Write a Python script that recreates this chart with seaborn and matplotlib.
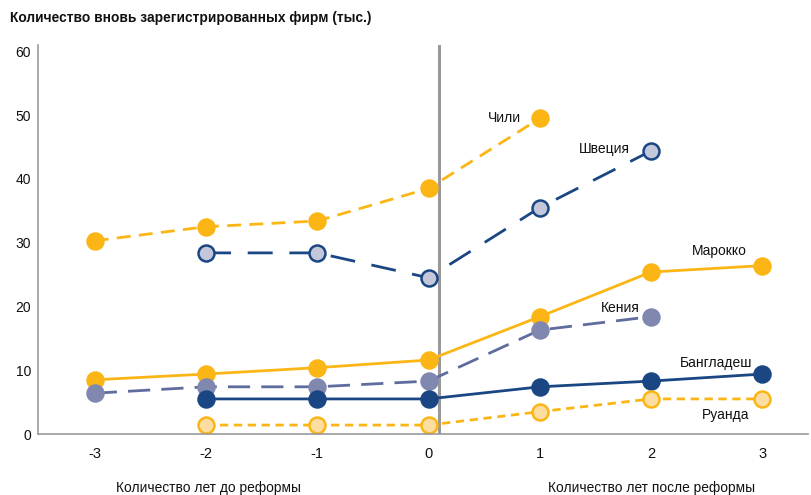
import matplotlib
matplotlib.use("Agg")
import matplotlib.pyplot as plt
import seaborn as sns
import pandas as pd

years = [-3, -2, -1, 0, 1, 2, 3]
chile_x = [-3, -2, -1, 0, 1]
chile = [30.3, 32.5, 33.4, 38.5, 49.5]
sweden_x = [-2, -1, 0, 1, 2]
sweden = [28.4, 28.4, 24.5, 35.5, 44.4]
morocco_x = [-3, -2, -1, 0, 1, 2, 3]
morocco = [8.5, 9.4, 10.4, 11.6, 18.4, 25.4, 26.4]
kenya_x = [-3, -2, -1, 0, 1, 2]
kenya = [6.4, 7.4, 7.4, 8.3, 16.3, 18.4]
bangladesh_x = [-2, -1, 0, 1, 2, 3]
bangladesh = [5.5, 5.5, 5.5, 7.4, 8.3, 9.4]
rwanda_x = [-2, -1, 0, 1, 2, 3]
rwanda = [1.4, 1.4, 1.4, 3.5, 5.5, 5.5]

title = "Количество вновь зарегистрированных фирм (тыс.)"
xlab_before = "Количество лет до реформы"
xlab_after = "Количество лет после реформы"

YEL = "#FBB616"
NAVY = "#1A4784"
KEN_LINE = "#5F6C9E"
KEN_FILL = "#8188B0"
SWE_FILL = "#C4C7DA"
RWA_FILL = "#FDDDA0"

sns.set_theme(style="white")
plt.rcParams['font.family'] = ['Liberation Sans', 'DejaVu Sans']

fig = plt.figure(figsize=(8.11, 4.95), dpi=100)
ax = fig.add_axes([38/811, 1-434/495, (808-38)/811, (434-45)/495])

series = [
    (chile_x, chile, YEL, (0, (5, 3)), YEL, YEL),
    (sweden_x, sweden, NAVY, (0, (9, 6)), SWE_FILL, NAVY),
    (morocco_x, morocco, YEL, '-', YEL, YEL),
    (kenya_x, kenya, KEN_LINE, (0, (8, 4)), KEN_FILL, KEN_FILL),
    (bangladesh_x, bangladesh, NAVY, '-', NAVY, NAVY),
    (rwanda_x, rwanda, YEL, (0, (3, 2)), RWA_FILL, YEL),
]
for xs, ys, lc, ls, fc, ec in series:
    df = pd.DataFrame({"x": xs, "y": ys})
    sns.lineplot(data=df, x="x", y="y", ax=ax, color=lc, linestyle=ls,
                 linewidth=2.0, marker='o', markersize=11.5,
                 markerfacecolor=fc, markeredgecolor=ec, markeredgewidth=1.8,
                 legend=False)

ax.axvline(0.09, color="#999999", linewidth=2.2, zorder=0)

ax.set_xlim(-3.51, 3.41)
ax.set_ylim(0, 61)
ax.set_xticks(years)
ax.set_xticklabels([str(v) for v in years], fontsize=10.5)
ax.set_yticks([0, 10, 20, 30, 40, 50, 60])
ax.set_yticklabels(["0", "10", "20", "30", "40", "50", "60"], fontsize=10)
ax.tick_params(axis='x', pad=9, length=0, colors="#111111")
ax.tick_params(axis='y', pad=5, length=0, colors="#111111")
ax.set_xlabel("")
ax.set_ylabel("")
for s in ["top", "right"]:
    ax.spines[s].set_visible(False)
for s in ["left", "bottom"]:
    ax.spines[s].set_color("#9A9A9A")
    ax.spines[s].set_linewidth(1.2)

lab = dict(fontsize=10, color="#111111", va="center")
ax.text(0.83, 49.6, "Чили", ha="right", **lab)
ax.text(1.81, 44.7, "Швеция", ha="right", **lab)
ax.text(2.61, 28.7, "Марокко", ha="center", **lab)
ax.text(1.72, 19.8, "Кения", ha="center", **lab)
ax.text(2.58, 11.1, "Бангладеш", ha="center", **lab)
ax.text(2.67, 3.0, "Руанда", ha="center", **lab)

fig.text(10/811, 1-18/495, title, fontsize=9.9, fontweight="bold", va="center", ha="left",
         color="#111111")
fig.text(209/811, 1-488/495, xlab_before, fontsize=9.9, ha="center", va="center",
         color="#111111")
fig.text(652/811, 1-488/495, xlab_after, fontsize=9.9, ha="center", va="center",
         color="#111111")

fig.savefig("out.png", dpi=100)
